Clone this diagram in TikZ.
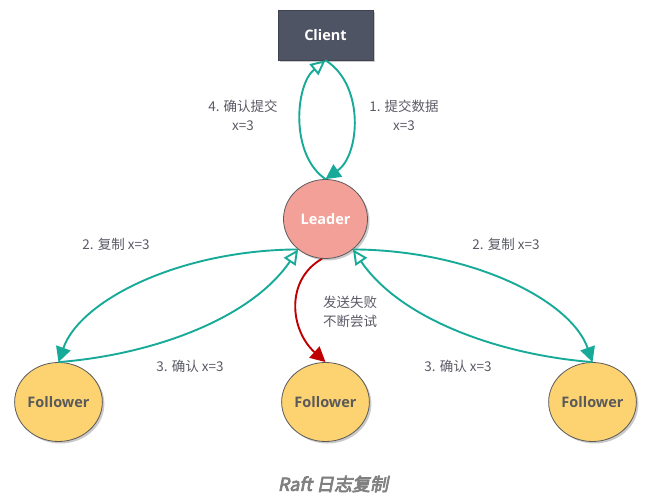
\documentclass[tikz,border=0pt]{standalone}
\usepackage{fontspec}
\setmainfont{Open Sans}
\newfontfamily\cjk{Noto Sans CJK SC}
\newfontfamily\titlefont[FakeSlant=0.2,FakeBold=4]{Noto Sans CJK SC}
\usetikzlibrary{arrows.meta,shapes.geometric,shadows}
\definecolor{teal1}{HTML}{17AA98}
\definecolor{leaderfill}{HTML}{F3A198}
\definecolor{followfill}{HTML}{FDD372}
\definecolor{clientfill}{HTML}{4E5463}
\definecolor{redline}{HTML}{C00000}
\definecolor{txt}{HTML}{5A5A66}
\definecolor{border}{HTML}{5A5A5A}
\tikzset{
  shade/.style={drop shadow={shadow xshift=2pt,shadow yshift=-2pt,opacity=0.35,fill=black!60}},
  roundnode/.style={ellipse,draw=border,line width=0.8pt,minimum width=84pt,minimum height=79pt,inner sep=0pt,font=\bfseries\fontsize{14.5}{16}\selectfont,shade},
  clientbox/.style={rectangle,draw=clientfill!80!black,line width=0.6pt,fill=clientfill,minimum width=95pt,minimum height=50pt,inner sep=0pt,text=white,font=\bfseries\fontsize{14.5}{16}\selectfont,shade},
  conn/.style={draw=teal1,line width=1.9pt},
  filledtip/.style={-{Triangle[length=15pt,width=15pt]}},
  opentip/.style={-{Triangle[length=15pt,width=14pt,fill=white]}},
  lbl/.style={text=txt,font=\cjk\fontsize{13.5}{19}\selectfont,align=center,inner sep=0pt},
}
\begin{document}
\begin{tikzpicture}[x=1pt,y=-1pt]
\useasboundingbox (0,0) rectangle (646,500);
\node[clientbox] (client) at (325.5,35) {Client};
\node[roundnode,fill=leaderfill,text=white] (leader) at (325.5,219) {Leader};
\node[roundnode,fill=followfill,text=border] (f1) at (58.5,402) {Follower};
\node[roundnode,fill=followfill,text=border] (f2) at (325.5,402) {Follower};
\node[roundnode,fill=followfill,text=border] (f3) at (592.5,402) {Follower};
% client <-> leader
\draw[conn,opentip] (leader.north) .. controls (290,155) and (295,85) .. (client.south);
\draw[conn,filledtip] (client.south) .. controls (365,85) and (360,155) .. (leader.north);
% left follower
\draw[conn,filledtip] (leader.228) .. controls (180,250) and (80,300) .. (f1.north);
\draw[conn,opentip] (f1.north) .. controls (150,355) and (250,320) .. (leader.228);
% right follower
\draw[conn,filledtip] (leader.312) .. controls (471,250) and (571,300) .. (f3.north);
\draw[conn,opentip] (f3.north) .. controls (501,355) and (401,320) .. (leader.312);
% middle (failed)
\draw[draw=redline,line width=1.9pt,-{Triangle[length=15pt,width=15pt]}] (leader.265) .. controls (285,280) and (290,330) .. (f2.north);
% labels
\node[lbl] (l4) at (243,115) {4. 确认提交\\x=3};
\node[lbl] (l1) at (404,115) {1. 提交数据\\x=3};
\node[lbl] (l2a) at (116,244) {2. 复制 x=3};
\node[lbl] (l2b) at (506,244) {2. 复制 x=3};
\node[lbl] (l3a) at (190,366) {3. 确认 x=3};
\node[lbl] (l3b) at (458,366) {3. 确认 x=3};
\node[lbl] (lf) at (350,312) {发送失败\\不断尝试};
\node[text=black!50,font=\titlefont\fontsize{18}{20}\selectfont,inner sep=0pt] (title) at (333,484) {Raft 日志复制};
\end{tikzpicture}
\end{document}
